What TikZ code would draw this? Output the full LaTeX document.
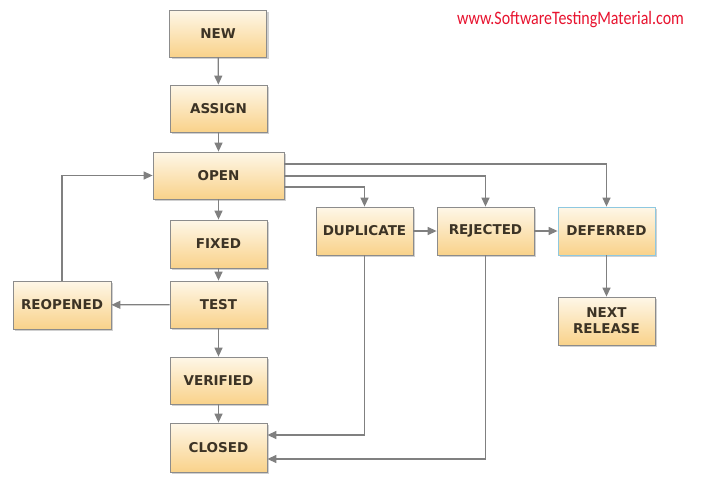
\documentclass[tikz,border=0pt]{standalone}
\usepackage{fontspec}
\usepackage{graphicx}
\newfontfamily\boxfont{DejaVu Sans}
\newfontfamily\wmfont{Carlito}
\usetikzlibrary{arrows.meta,shadows,calc}
\definecolor{txt}{HTML}{3C3325}
\definecolor{edge}{HTML}{808080}
\definecolor{bord}{HTML}{8C8C8C}
\definecolor{topc}{HTML}{FEF7E8}
\definecolor{botc}{HTML}{F9D28A}
\definecolor{blueb}{HTML}{8EC8E0}
\definecolor{wm}{HTML}{E8132F}
\tikzset{
  state/.style={draw=bord, line width=0.8pt, top color=topc, bottom color=botc,
    minimum width=97pt, minimum height=47pt, inner sep=0pt, align=center,
    font=\boxfont\bfseries\fontsize{13.5}{16}\selectfont, text=txt,
    drop shadow={shadow xshift=2pt, shadow yshift=-2pt, opacity=0.3, fill=black!60}},
  conn/.style={draw=edge, line width=1.3pt, -{Triangle[length=9pt,width=8pt]}},
}
\begin{document}
\begin{tikzpicture}[x=1pt,y=-1pt]
\useasboundingbox (0,0) rectangle (705,480);
\fill[white] (0,0) rectangle (705,480);
\node[state] (new) at (218,33.5) {NEW};
\node[state] (assign) at (218.5,108.5) {ASSIGN};
\node[state, minimum width=131pt] (open) at (218.5,175.5) {OPEN};
\node[state, minimum height=48pt] (fixed) at (218.5,244) {FIXED};
\node[state] (test) at (218.5,304.5) {TEST};
\node[state] (verified) at (218.5,380.5) {VERIFIED};
\node[state, minimum height=49pt] (closed) at (218.5,447.5) {CLOSED};
\node[state, minimum width=98pt, minimum height=48pt] (reopened) at (62,305) {REOPENED};
\node[state, minimum height=48pt] (duplicate) at (364.5,231) {DUPLICATE};
\node[state, minimum height=48pt] (rejected) at (485.5,231) {REJECTED};
\node[state, minimum height=48pt, draw=blueb] (deferred) at (606.5,231) {DEFERRED};
\node[state, minimum height=48pt] (next) at (606.5,321) {NEXT\\RELEASE};
\node[font=\wmfont\fontsize{19}{22}\selectfont, text=wm, inner sep=0pt] (wmark) at (570.5,20) {\scalebox{0.84}[1]{www.SoftwareTestingMaterial.com}};

\draw[conn] (new) -- (assign);
\draw[conn] (assign) -- (open);
\draw[conn] (open) -- (fixed);
\draw[conn] (fixed) -- (test);
\draw[conn] (test) -- (verified);
\draw[conn] (verified) -- (closed);
\draw[conn] (test) -- (reopened);
\draw[conn] (reopened.north) |- (open.west);
\draw[conn] ($(open.east)+(0,-11.5)$) -| (deferred.north);
\draw[conn] ($(open.east)+(0,0.5)$) -| (rejected.north);
\draw[conn] ($(open.east)+(0,11.5)$) -| (duplicate.north);
\draw[conn] (duplicate) -- (rejected);
\draw[conn] (rejected) -- (deferred);
\draw[conn] (deferred) -- (next);
\draw[conn] (duplicate.south) |- ($(closed.east)+(0,-12.5)$);
\draw[conn] (rejected.south) |- ($(closed.east)+(0,11.5)$);
\end{tikzpicture}
\end{document}
